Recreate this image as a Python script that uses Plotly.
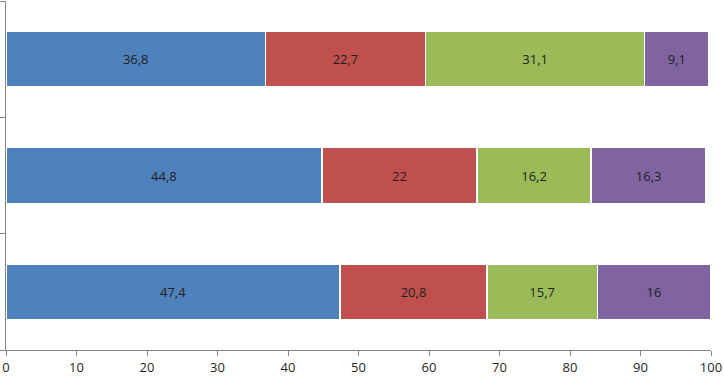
import plotly.graph_objects as go

categories = ["C", "B", "A"]  # bottom to top
series_names = ["S1", "S2", "S3", "S4"]
s1 = [47.4, 44.8, 36.8]
s2 = [20.8, 22.0, 22.7]
s3 = [15.7, 16.2, 31.1]
s4 = [16.0, 16.3, 9.1]
colors = ["#4F81BD", "#C0504D", "#9BBB59", "#8064A2"]
x_ticks = list(range(0, 101, 10))

def fmt(v):
    s = ("%g" % v)
    return s.replace(".", ",")

fig = go.Figure()
for name, vals, col in zip(series_names, [s1, s2, s3, s4], colors):
    fig.add_trace(go.Bar(
        y=categories, x=vals, name=name, orientation="h",
        marker=dict(color=col, line=dict(color="white", width=1.5)),
        text=[fmt(v) for v in vals], textposition="inside",
        insidetextanchor="middle", textangle=0, constraintext="none",
        textfont=dict(family="Open Sans, sans-serif", size=13, color="#1f1f1f"),
        hoverinfo="x+y",
    ))

fig.update_layout(
    barmode="stack", width=724, height=377,
    margin=dict(l=6, r=13, t=1, b=27),
    paper_bgcolor="white", plot_bgcolor="white",
    showlegend=False, bargap=0.52,
    font=dict(family="Open Sans, sans-serif", size=13, color="#1f1f1f"),
)
fig.update_xaxes(
    range=[0, 100], tickvals=x_ticks, ticktext=[str(t) for t in x_ticks],
    showgrid=False, zeroline=False, showline=True, linecolor="#868686", linewidth=1,
    ticks="outside", ticklen=5, tickcolor="#868686", automargin=False,
    tickfont=dict(size=13, color="#1f1f1f"),
)
fig.update_yaxes(
    type="category", showticklabels=False, tickson="boundaries", automargin=False,
    showgrid=False, zeroline=False, showline=True, linecolor="#868686", linewidth=1,
    ticks="outside", ticklen=5, tickcolor="#868686",
)
fig.write_html(
    "out.html",
    config={"displayModeBar": False},
    post_script="document.body.style.margin='0';document.body.style.padding='0';",
)
